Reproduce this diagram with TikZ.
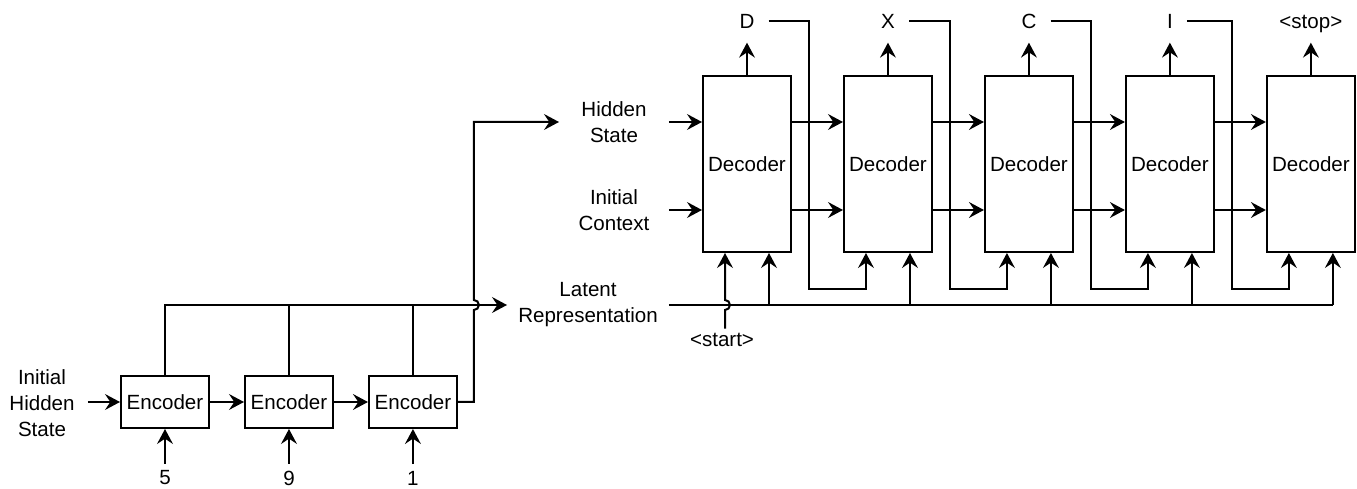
\documentclass[tikz,border=0pt]{standalone}
\usepackage{fontspec}
\setmainfont{Liberation Sans}
\usetikzlibrary{
  arrows.meta,%
  calc,%
  positioning
}
\tikzset{>={Stealth[length=8.5pt, width=9pt, inset=3pt]}}
\tikzset{font=\fontsize{11.7pt}{14.8pt}\selectfont}
\tikzset{encbox/.style={draw, minimum width=1.76cm, minimum height=1.04cm, inner sep=0pt},
  decbox/.style={draw, minimum width=1.76cm, minimum height=3.52cm, inner sep=0pt},
  txtlbl/.style={align=center, inner sep=0pt},
  outlbl/.style={inner sep=7.5pt, text height=8.5pt, text depth=0pt}}

\begin{document}
\begin{tikzpicture}[x=0.02cm, y=-0.02cm, line width=0.04cm]
            \useasboundingbox (0,0) rectangle (1357,489);
            % encoders
            \node[encbox] (enc1) at (165,402) {Encoder};
            \node[encbox, right=0.68cm of enc1] (enc2) {Encoder};
            \node[encbox, right=0.68cm of enc2] (enc3) {Encoder};
            \node[txtlbl, minimum width=1.8cm] (ihs) at (42,403) {Initial\\Hidden\\State};
            \foreach \i/\v in {1/5, 2/9, 3/1} {
                \node (in\i) at ($(enc\i.south)+(0,49)$) {\v};
                \draw[->] (in\i) -- (enc\i);
            }
            \draw[->] (ihs.east |- enc1) -- (enc1);
            \draw[->] (enc1) -- (enc2);
            \draw[->] (enc2) -- (enc3);
            % labels in the middle
            \node[txtlbl, minimum width=3.2cm] (lat) at (588,305) {Latent\\Representation};
            \node[txtlbl, minimum width=2.16cm] (hid) at (614,122) {Hidden\\State};
            \node[txtlbl, minimum width=2.16cm] (ctx) at (614,210) {Initial\\Context};
            \draw[->] (enc1.north) |- (lat.west);
            \draw (enc2.north) -- (enc2.north |- lat.west);
            \draw (enc3.north) -- (enc3.north |- lat.west);
            \coordinate (hopA) at ($(enc3.east |- lat.west)+(16,0)$);
            \draw[->] (enc3.east) -- (enc3.east -| hopA) -- ($(hopA)+(0,5)$)
                arc[start angle=-90, end angle=90, radius=0.1cm] -- (hopA |- hid.west) -- (hid.west);
            % decoders
            \node[decbox] (dec1) at (747,164) {Decoder};
            \foreach \j/\i in {1/2, 2/3, 3/4, 4/5} {
                \node[decbox, right=1.02cm of dec\j] (dec\i) {Decoder};
            }
            \foreach \i/\w in {1/D, 2/X, 3/C, 4/I, 5/{<stop>}} {
                \coordinate (a\i) at ($(dec\i.south)+(-22,0)$);
                \coordinate (b\i) at ($(dec\i.south)+(22,0)$);
                \node[outlbl] (out\i) at ($(dec\i.north)+(0,-54)$) {\w};
                \draw[->] (dec\i) -- (out\i);
                \draw[->] (b\i |- lat.east) -- (b\i);
            }
            \draw (lat.east) -- (lat.east -| b5);
            \foreach \j/\i in {1/2, 2/3, 3/4, 4/5} {
                \draw[->] (dec\j.east |- hid) -- (dec\i.west |- hid);
                \draw[->] (dec\j.east |- ctx) -- (dec\i.west |- ctx);
                \coordinate (fb\j) at ($(dec\j.south east)+(17,36)$);
                \draw[->] (out\j.east) -| (fb\j) -- (fb\j -| a\i) -- (a\i);
            }
            \draw[->] (hid.east) -- (hid.east -| dec1.west);
            \draw[->] (ctx.east) -- (ctx.east -| dec1.west);
            \node[inner sep=2pt] (start) at (722,340) {<start>};
            \coordinate (hopB) at (a1 |- lat.east);
            \draw[->] (start.north -| a1) -- ($(hopB)+(0,5)$)
                arc[start angle=-90, end angle=90, radius=0.1cm] -- (a1);
        \end{tikzpicture}
\end{document}
